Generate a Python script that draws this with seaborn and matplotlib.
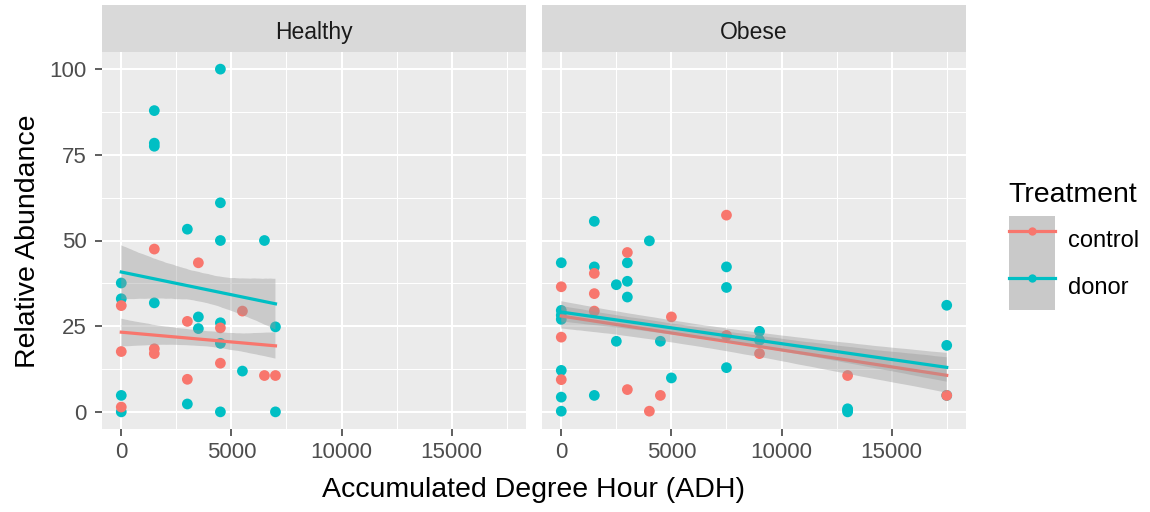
import numpy as np
import pandas as pd
import matplotlib.pyplot as plt
import seaborn as sns
from matplotlib.lines import Line2D
from matplotlib.patches import Patch
from matplotlib.ticker import MultipleLocator

# values (some points overlap each other)
healthy_control_x = [0, 0, 0, 1500, 1500, 1500, 3000, 3000, 3500, 4500, 4500, 5500, 6500, 7000]
healthy_control_y = [31, 17.6, 1.4, 47.5, 18.4, 17, 26.4, 9.5, 43.5, 24.5, 14.2, 29.4, 10.6, 10.6]
healthy_donor_x = [0, 0, 0, 0, 1500, 1500, 1500, 1500, 3000, 3000, 3500, 3500,
                   4500, 4500, 4500, 4500, 4500, 4500, 5500, 6500, 7000, 7000]
healthy_donor_y = [37.6, 33, 4.8, 0, 87.9, 78.4, 77.5, 31.8, 53.3, 2.3, 27.7, 24.3,
                   100, 61, 50, 26, 20, 0, 11.9, 50, 24.8, 0]
obese_control_x = [0, 0, 0, 1500, 1500, 1500, 3000, 3000, 4000, 4500, 5000, 7500, 7500, 9000, 13000, 17500]
obese_control_y = [36.5, 21.8, 9.4, 40.4, 34.5, 29.4, 46.5, 6.5, 0.2, 4.8, 27.7, 57.4, 22.3, 17, 10.6, 4.8]
obese_donor_x = [0, 0, 0, 0, 0, 0, 0, 1500, 1500, 1500, 2500, 2500, 3000, 3000, 3000, 4000,
                 4500, 5000, 7500, 7500, 7500, 9000, 9000, 13000, 13000, 13000, 17500, 17500, 17500]
obese_donor_y = [43.5, 29.6, 28.2, 27, 12.1, 4.3, 0.2, 55.6, 42.3, 4.8, 37.1, 20.6, 43.5, 38.1, 33.5, 49.9,
                 20.6, 9.9, 42.3, 36.3, 12.9, 23.5, 20.9, 0.9, 0.5, 0, 31.1, 19.4, 4.8]

conditions = ["Healthy", "Obese"]
treatments = ["control", "donor"]
palette = {"control": "#F8766D", "donor": "#00BFC4"}

# donor rows first so control points sit on top where they overlap
frames = []
for cond, treat, xs, ys in [
    ("Healthy", "donor", healthy_donor_x, healthy_donor_y),
    ("Healthy", "control", healthy_control_x, healthy_control_y),
    ("Obese", "donor", obese_donor_x, obese_donor_y),
    ("Obese", "control", obese_control_x, obese_control_y),
]:
    frames.append(pd.DataFrame({"ADH": xs, "Abundance": ys, "Condition": cond, "Treatment": treat}))
df = pd.concat(frames, ignore_index=True)

plt.rcParams["font.family"] = ["Liberation Sans", "DejaVu Sans"]

W, H = 1150, 512
fig = plt.figure(figsize=(W / 100, H / 100), dpi=100)

panel_top, panel_bot = 52, 429
strip_top = 5
lefts = [102, 542]
pw = 424

for i, cond in enumerate(conditions):
    l = lefts[i]
    ax = fig.add_axes([l / W, 1 - panel_bot / H, pw / W, (panel_bot - panel_top) / H])
    sax = fig.add_axes([l / W, 1 - panel_top / H, pw / W, (panel_top - strip_top) / H])
    sax.set_facecolor("#D9D9D9")
    sax.set_xticks([])
    sax.set_yticks([])
    for s in sax.spines.values():
        s.set_visible(False)
    sax.text(0.5, 0.42, cond, ha="center", va="center", fontsize=16.5, color="#1A1A1A",
             transform=sax.transAxes)

    ax.set_facecolor("#EBEBEB")
    sub = df[df["Condition"] == cond]
    sns.scatterplot(data=sub, x="ADH", y="Abundance", hue="Treatment", palette=palette,
                    hue_order=treatments, s=60, linewidth=0, ax=ax, legend=False, zorder=2)

    z = 3
    for treat in treatments:
        g = sub[sub["Treatment"] == treat]
        n_lines, n_coll = len(ax.lines), len(ax.collections)
        sns.regplot(data=g, x="ADH", y="Abundance", scatter=False, ci=50, n_boot=3000, seed=1,
                    color=palette[treat], line_kws={"lw": 2.3}, ax=ax)
        for c in ax.collections[n_coll:]:
            c.set_facecolor("#999999")
            c.set_alpha(0.4)
            c.set_zorder(z)
        for ln in ax.lines[n_lines:]:
            ln.set_zorder(z + 0.5)
        z += 1

    ax.set_xlim(-875, 18375)
    ax.set_ylim(-5, 105)
    ax.xaxis.set_major_locator(MultipleLocator(5000))
    ax.xaxis.set_minor_locator(MultipleLocator(2500))
    ax.yaxis.set_major_locator(MultipleLocator(25))
    ax.yaxis.set_minor_locator(MultipleLocator(12.5))
    ax.grid(which="major", color="white", lw=1.5)
    ax.grid(which="minor", color="white", lw=0.75)
    ax.set_axisbelow(True)
    for s in ax.spines.values():
        s.set_visible(False)
    ax.tick_params(which="major", length=5, width=1.1, color="#333333",
                   labelsize=16, labelcolor="#4D4D4D")
    ax.tick_params(axis="y", pad=6)
    ax.tick_params(axis="x", pad=4)
    ax.tick_params(which="minor", length=0)
    ax.set_xlabel("")
    ax.set_ylabel("")
    if i == 1:
        ax.tick_params(axis="y", labelleft=False, length=0)

fig.text(534 / W, 1 - 490 / H, "Accumulated Degree Hour (ADH)", ha="center", va="center", fontsize=20.5)
fig.text(28 / W, 1 - 241 / H, "Relative Abundance", ha="center", va="center", rotation=90, fontsize=20.5)

handles = [(Patch(facecolor="#C9C9C9", edgecolor="none"),
            Line2D([], [], color=palette[t], lw=2.3, marker="o", markersize=6, markeredgewidth=0))
           for t in treatments]
leg = fig.legend(handles, treatments, title="Treatment", loc="upper left",
                 bbox_to_anchor=(997 / W, 1 - 170 / H), frameon=False, fontsize=17,
                 title_fontsize=20.5, handlelength=1.95, handleheight=2.68, labelspacing=0,
                 handletextpad=0.55, borderpad=0, alignment="left")
leg._legend_box.sep = 6

fig.savefig("out.png", dpi=100)
